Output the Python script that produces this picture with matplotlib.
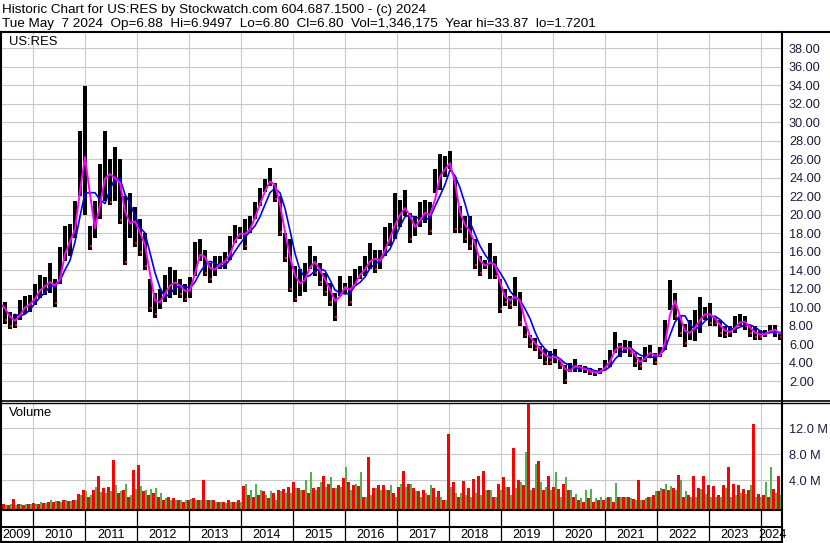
import numpy as np
import pandas as pd
import matplotlib
matplotlib.use("Agg")
import matplotlib.pyplot as plt
from matplotlib.lines import Line2D

plt.rcParams["font.family"] = ["Liberation Sans", "DejaVu Sans"]

# sampling of the price history (decimal years), one sample every ~5 weeks
t_start = 2009.365
t_step = 5 / 52

price_hi = [11.8, 10.5, 9.5, 9.3, 10.8, 11.2, 11.3, 12.5, 13.5, 13.2,
            14.8, 13.0, 16.5, 18.8, 19.0, 21.5, 29.0, 33.87, 18.8, 21.5,
            25.5, 29.0, 26.0, 27.3, 26.0, 22.0, 22.3, 20.8, 19.5, 18.0,
            13.0, 11.5, 12.0, 13.5, 14.3, 14.0, 13.0, 12.5, 13.2, 17.0,
            17.3, 16.2, 14.8, 15.5, 15.5, 15.9, 17.7, 18.9, 18.6, 19.5,
            19.8, 21.3, 22.9, 23.8, 25.0, 23.4, 22.0, 18.0, 17.3, 14.4,
            14.1, 14.8, 16.6, 15.5, 14.8, 13.7, 12.6, 11.5, 13.3, 12.6,
            13.3, 14.1, 14.4, 15.5, 16.9, 16.2, 16.2, 18.7, 19.1, 22.3,
            21.6, 22.7, 20.2, 19.8, 21.3, 21.6, 21.3, 24.9, 26.5, 26.3,
            26.9, 24.1, 20.9, 19.8, 19.8, 17.3, 15.5, 15.1, 16.9, 15.5,
            13.0, 11.9, 11.2, 13.2, 11.6, 8.0, 7.0, 6.6, 5.8, 5.5,
            5.2, 5.5, 4.4, 3.7, 4.0, 4.4, 3.7, 3.6, 3.4, 3.2,
            3.4, 4.3, 5.4, 7.3, 6.1, 6.4, 6.3, 5.0, 4.6, 5.7,
            5.9, 5.0, 5.7, 8.6, 12.9, 11.5, 9.0, 8.2, 8.6, 9.7,
            11.1, 10.0, 10.4, 9.0, 8.6, 7.9, 7.9, 9.0, 9.3, 9.0,
            7.9, 7.9, 7.5, 7.5, 8.1, 8.1, 7.2]

price_lo = [9.0, 8.2, 7.6, 7.7, 8.6, 9.2, 9.5, 10.2, 11.0, 11.3,
            11.5, 10.0, 12.5, 15.0, 15.5, 17.5, 22.0, 20.0, 16.2, 17.5,
            19.5, 21.5, 21.0, 21.5, 19.0, 14.5, 17.5, 16.5, 15.5, 14.0,
            9.5, 8.8, 9.8, 10.5, 11.0, 11.3, 11.0, 10.5, 11.0, 13.3,
            15.0, 13.3, 12.6, 13.3, 14.1, 14.1, 15.1, 16.9, 17.3, 16.2,
            18.0, 19.5, 20.9, 22.4, 23.1, 21.3, 17.7, 14.9, 11.6, 10.5,
            11.2, 11.6, 14.1, 13.3, 12.3, 11.2, 10.1, 8.5, 11.2, 11.5,
            10.1, 12.3, 13.0, 13.3, 14.1, 13.7, 14.1, 15.5, 16.6, 17.3,
            18.7, 19.8, 16.9, 17.7, 18.7, 19.1, 17.8, 22.3, 22.7, 24.1,
            24.9, 18.0, 18.0, 16.9, 16.2, 14.1, 13.3, 14.1, 13.0, 13.0,
            9.4, 10.1, 9.8, 10.1, 8.0, 6.6, 5.6, 5.2, 4.4, 3.7,
            3.7, 4.0, 3.3, 1.72, 3.0, 3.0, 3.0, 2.9, 2.6, 2.5,
            2.8, 3.2, 3.5, 5.0, 4.6, 5.0, 4.6, 3.5, 3.2, 4.1,
            4.5, 3.7, 4.6, 5.4, 9.7, 8.6, 6.8, 5.7, 6.4, 6.3,
            7.2, 8.6, 7.9, 7.9, 6.8, 6.6, 6.8, 7.2, 7.9, 7.5,
            6.8, 6.4, 6.4, 6.8, 7.2, 6.8, 6.4]

# volume in millions: biggest down-day and up-day bar in each sample
vol_down = [0.2, 0.3, 0.2, 1.1, 0.3, 0.2, 0.3, 0.5, 0.4, 0.5,
            0.6, 0.7, 0.8, 0.9, 0.8, 1.0, 1.9, 2.5, 1.5, 2.5,
            4.6, 2.8, 2.9, 7.1, 2.0, 2.5, 1.5, 5.6, 6.4, 2.3,
            1.7, 2.0, 1.5, 1.0, 1.5, 1.2, 1.0, 0.7, 1.0, 1.2,
            1.0, 4.0, 1.0, 1.0, 0.7, 0.7, 1.0, 0.7, 1.0, 3.1,
            1.7, 1.5, 1.7, 2.3, 1.2, 2.0, 2.5, 2.6, 2.9, 3.8,
            2.8, 2.5, 2.0, 2.8, 2.9, 4.6, 3.5, 2.8, 3.3, 4.3,
            3.8, 3.3, 3.1, 1.5, 7.6, 2.8, 3.3, 3.3, 2.5, 2.0,
            3.0, 5.4, 3.5, 2.8, 2.3, 2.5, 1.7, 2.8, 2.3, 0.9,
            11.1, 3.8, 1.5, 3.9, 2.8, 4.2, 4.6, 5.4, 2.5, 1.5,
            3.5, 4.5, 3.0, 8.9, 4.1, 3.3, 17.0, 2.8, 6.9, 2.5,
            4.6, 2.9, 2.6, 3.4, 2.5, 1.5, 1.0, 0.7, 1.2, 0.7,
            1.0, 1.0, 1.5, 0.7, 1.5, 1.5, 1.4, 1.1, 4.1, 1.0,
            1.4, 1.7, 2.3, 2.6, 2.5, 2.8, 4.8, 1.5, 1.7, 4.7,
            2.8, 4.6, 3.3, 3.1, 1.7, 3.3, 6.1, 3.5, 3.3, 2.6,
            2.5, 12.7, 1.9, 1.7, 1.5, 2.6, 4.6]

vol_up = [0.1, 0.2, 0.3, 0.2, 0.3, 0.3, 0.4, 0.4, 0.6, 0.5,
          1.0, 0.8, 0.7, 1.0, 0.8, 0.9, 1.7, 2.3, 1.7, 2.9,
          2.2, 2.0, 2.3, 3.3, 2.3, 3.5, 1.7, 2.6, 3.1, 2.5,
          2.6, 2.8, 2.0, 1.2, 1.0, 1.0, 1.0, 1.0, 1.1, 0.9,
          1.0, 0.9, 1.0, 0.7, 0.6, 0.5, 0.7, 0.6, 0.7, 3.4,
          2.5, 3.5, 2.5, 1.7, 2.4, 1.0, 2.3, 2.0, 2.0, 2.8,
          2.5, 4.1, 5.2, 2.5, 3.8, 3.0, 4.5, 2.8, 3.0, 6.1,
          2.5, 3.5, 5.3, 1.5, 1.7, 2.8, 2.5, 2.5, 3.3, 1.5,
          3.5, 2.9, 3.5, 2.3, 1.5, 2.0, 3.3, 1.5, 1.5, 1.0,
          3.0, 2.0, 2.0, 1.7, 1.5, 2.0, 1.7, 2.5, 2.5, 1.5,
          2.5, 2.9, 1.7, 2.8, 3.8, 8.3, 2.5, 6.5, 3.8, 2.9,
          2.5, 5.2, 1.5, 4.5, 2.5, 1.9, 1.2, 2.5, 2.6, 1.2,
          1.5, 1.2, 1.4, 3.6, 1.4, 1.4, 1.2, 1.0, 1.0, 1.2,
          1.5, 2.4, 2.8, 3.5, 3.1, 2.5, 4.1, 2.3, 1.5, 1.5,
          2.6, 1.9, 1.5, 1.5, 1.5, 2.8, 1.5, 1.7, 2.0, 1.9,
          3.3, 1.5, 1.5, 3.8, 6.1, 2.0, 1.7]

years = list(range(2009, 2025))
price_ticks = list(range(2, 40, 2))
vol_ticks = [4, 8, 12]

header1 = "Historic Chart for US:RES by Stockwatch.com 604.687.1500 - (c) 2024"
header2 = ("Tue May  7 2024  Op=6.88  Hi=6.9497  Lo=6.80  Cl=6.80  "
           "Vol=1,346,175  Year hi=33.87  lo=1.7201")

W, H = 830, 543
GRID = "#c8c8c8"
LABEL = "#1a1a40"


def fx(px):
    return px / W


def fy(py):
    return 1 - py / H


t = t_start + t_step * np.arange(len(price_hi))
df = pd.DataFrame({"t": t, "hi": price_hi, "lo": price_lo,
                   "vd": vol_down, "vu": vol_up})
df["mid"] = (df["hi"] + df["lo"]) / 2
df["ma_fast"] = df["mid"].rolling(2, min_periods=1).mean()
df["ma_slow"] = df["mid"].rolling(4, min_periods=4).mean()
falling = df["mid"].diff() < 0

x0, x1 = 2010 - 33 / 52, 2010 + 749 / 52

fig = plt.figure(figsize=(W / 100, H / 100), dpi=100)
ax_p = fig.add_axes([0, fy(400), fx(782), (400 - 32) / H])
ax_v = fig.add_axes([0, fy(509), fx(782), (509 - 403) / H])
ax_d = fig.add_axes([0, 0, fx(782), (543 - 509) / H])

# price panel
ax_p.bar(df["t"], df["hi"] - df["lo"], bottom=df["lo"], width=t_step * 0.95,
         color="black", linewidth=0, zorder=2)
# red close ticks on the falling stretches
ax_p.plot(df["t"][falling] + t_step * 0.3, df["lo"][falling] + 0.4, ls="none",
          marker="s", ms=1.6, color="#ff0000", mew=0, zorder=2.5)
ax_p.plot(df["t"], df["ma_slow"], color="#0000ff", lw=1.2, zorder=3)
ax_p.plot(df["t"], df["ma_fast"], color="#ff00ff", lw=1.4, zorder=4)
ax_p.set_xlim(x0, x1)
ax_p.set_ylim(-0.05, (399.5 - 32) / 9.25)
ax_p.set_yticks(price_ticks)
ax_p.set_yticklabels([f"{v:.2f}" for v in price_ticks])
ax_p.text(9 / 782, 1 - (42 - 32) / 368, "US:RES", transform=ax_p.transAxes,
          fontsize=9.4, va="center", ha="left")

# volume panel
v_floor = -0.42
ax_v.bar(df["t"] - t_step / 4, df["vd"] - v_floor, bottom=v_floor,
         width=t_step / 2, color="#ff0000", linewidth=0, zorder=2)
ax_v.bar(df["t"] + t_step / 4, df["vu"] - v_floor, bottom=v_floor,
         width=t_step / 2, color="#4db34d", linewidth=0, zorder=2)
ax_v.set_xlim(x0, x1)
ax_v.set_ylim(v_floor, 15.9)
ax_v.set_yticks(vol_ticks)
ax_v.set_yticklabels([f"{v:.1f} M" for v in vol_ticks])
ax_v.text(9 / 782, 1 - (413 - 403) / 106, "Volume", transform=ax_v.transAxes,
          fontsize=9.4, va="center", ha="left")

for ax in (ax_p, ax_v):
    ax.set_xticks(years[1:])
    ax.grid(True, color=GRID, lw=0.8)
    ax.set_axisbelow(True)
    ax.yaxis.tick_right()
    ax.tick_params(axis="x", length=0, labelbottom=False)
    ax.tick_params(axis="y", length=0, pad=5, labelsize=9.2, labelcolor=LABEL)
    for s in ax.spines.values():
        s.set_visible(False)

# date strip
ax_d.set_xlim(x0, x1)
ax_d.set_ylim(0, 1)
ax_d.axis("off")
ax_d.vlines(years[1:], 0, 1, color="black", lw=0.9)
for y in years:
    left = max(y, x0)
    right = min(y + 1, x1 + 0.05)
    ax_d.text((left + right) / 2, (543 - 535) / 34, str(y), fontsize=9.2,
              ha="center", va="center")

# frame lines
def hline(py, xa, xb, lw):
    fig.add_artist(Line2D([fx(xa), fx(xb)], [fy(py), fy(py)], color="black",
                          lw=lw))


def vline(px, ya, yb, lw):
    fig.add_artist(Line2D([fx(px), fx(px)], [fy(ya), fy(yb)], color="black",
                          lw=lw))


hline(31.5, 0, W, 1.5)
hline(400.5, 0, W, 1.2)
hline(402.8, 0, W, 1.0)
hline(509.5, 0, 782, 1.5)
hline(527, 0, 782, 1.5)
hline(542, 0, 782, 1.5)
vline(0.7, 32, 543, 1.5)
vline(782, 32, 543, 1.5)

fig.text(fx(2), fy(10.5), header1, fontsize=9.7, va="center", ha="left")
fig.text(fx(2), fy(24), header2, fontsize=9.7, va="center", ha="left")

fig.savefig("out.png", dpi=100)
plt.close(fig)
